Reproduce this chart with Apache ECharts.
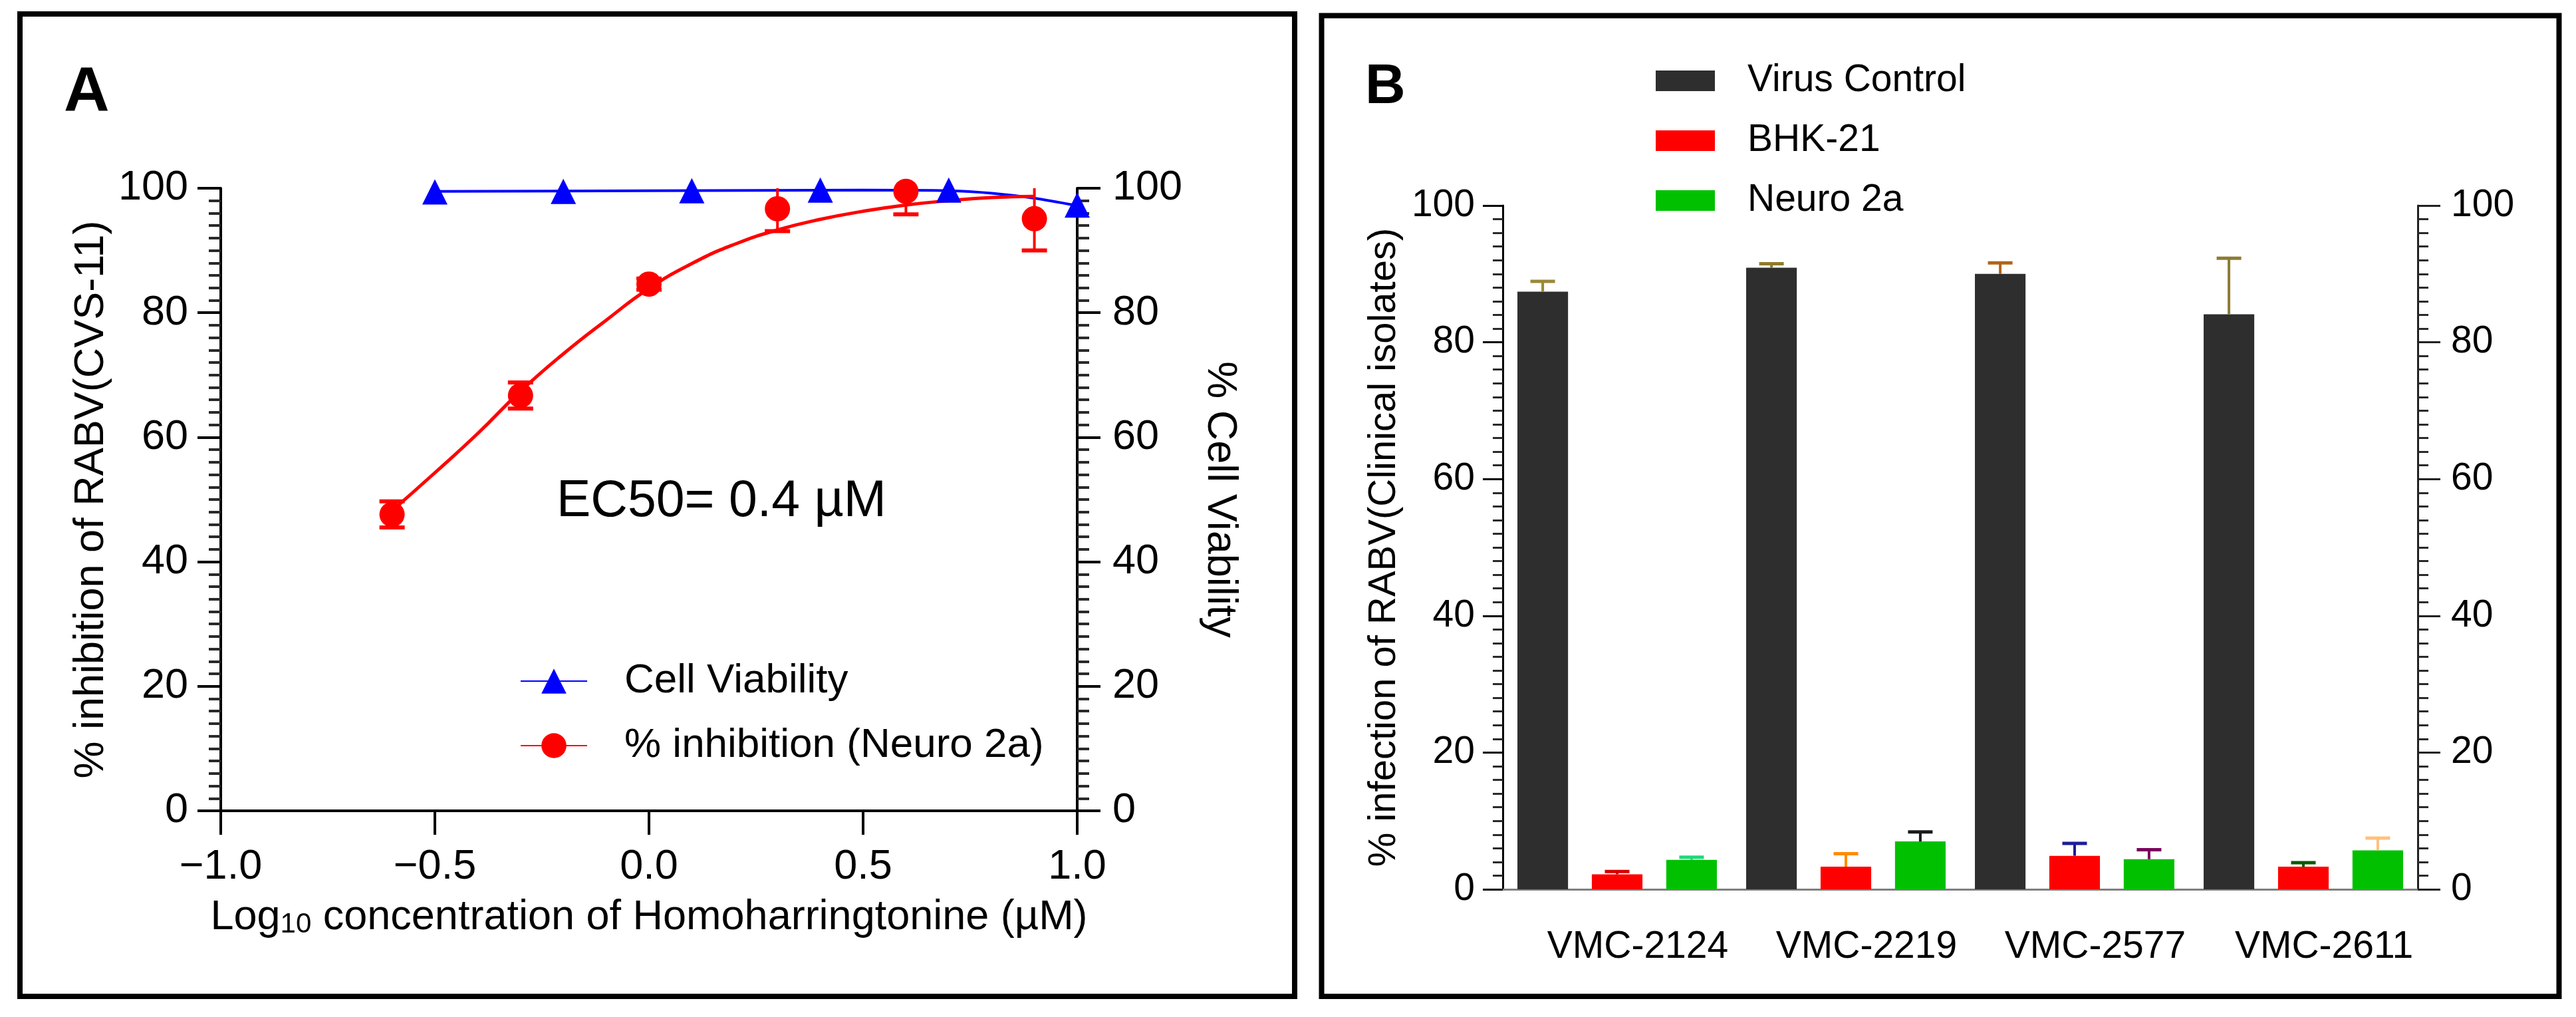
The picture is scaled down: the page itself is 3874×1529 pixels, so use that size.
<!DOCTYPE html>
<html>
<head>
<meta charset="utf-8">
<script src="https://cdn.jsdelivr.net/npm/echarts@6.0.0/dist/echarts.min.js"></script>
<style>
html,body{margin:0;padding:0;background:#fff;}
#c{width:3874px;height:1529px;}
</style>
</head>
<body>
<div id="c"></div>
<script>
// ---------------- DATA (panel A) ----------------
const inhibX = [-0.6, -0.3, 0.0, 0.3, 0.6, 0.9];
const inhibVals = [47.6, 66.7, 84.6, 96.7, 99.5, 95.1];
const inhibErr = [2.1, 2.1, 0.9, 3.6, 3.7, 5.1];

const viabX = [-0.5, -0.2, 0.1, 0.4, 0.7, 1.0];
const viabVals = [99.4, 99.5, 99.6, 99.7, 99.7, 97.3];

const inhibCurveX = [-0.6, -0.5, -0.4, -0.3, -0.2, -0.1, 0.0, 0.1, 0.2, 0.3, 0.4, 0.5, 0.6, 0.7, 0.8, 0.9];
const inhibCurveY = [48.2, 54.3, 60.6, 67.4, 73.4, 78.8, 83.9, 87.9, 91.0, 93.3, 95.0, 96.3, 97.3, 98.0, 98.5, 98.7];

const viabCurveX = [-0.5, 0.0, 0.5, 0.7, 0.8, 0.9, 1.0];
const viabCurveY = [99.5, 99.6, 99.7, 99.6, 99.2, 98.4, 97.2];

const xTickLabelsA = [-1.0, -0.5, 0.0, 0.5, 1.0];

// ---------------- DATA (panel B) ----------------
const isolates = ['VMC-2124', 'VMC-2219', 'VMC-2577', 'VMC-2611'];
const virusControl = [87.4, 90.9, 90.0, 84.1];
const virusControlErr = [1.5, 0.6, 1.6, 8.2];
const bhk21 = [2.2, 3.3, 4.9, 3.3];
const bhk21Err = [0.4, 1.9, 1.8, 0.6];
const neuro2a = [4.3, 7.0, 4.4, 5.7];
const neuro2aErr = [0.4, 1.4, 1.4, 1.8];

// ---------------- STYLE ----------------
const FONT = '"Liberation Sans", Arial, Helvetica, sans-serif';
const RED = '#ff0000';
const BLUE = '#0000ff';
const BAR_COLORS = ['#2e2e2e', '#ff0000', '#00c000'];
const ERR_COLORS = [
  ['#9a8838', '#8f7a2c', '#b0651a', '#8b7b33'],
  ['#d40000', '#ff8c00', '#1c1c9c', '#005c00'],
  ['#20d878', '#1a1a1a', '#7a005c', '#ffc080']
];
const BAR_GAP = 0.47;
const CAT_GAP = 0.128;

function fmtX(v) {
  const s = Math.abs(v).toFixed(1);
  return v < 0 ? '\u2212' + s : s;
}

function errA(params, api) {
  const x = api.value(0), v = api.value(1), e = api.value(2);
  const lo = Math.max(v - e, 0), hi = Math.min(v + e, 100);
  const pLo = api.coord([x, lo]);
  const pHi = api.coord([x, hi]);
  const half = 19;
  const children = [{
    type: 'line',
    shape: {x1: pLo[0], y1: pLo[1], x2: pHi[0], y2: pHi[1]},
    style: {stroke: RED, lineWidth: 4}
  }];
  if (v - e >= 0) children.push({type: 'line', shape: {x1: pLo[0] - half, y1: pLo[1], x2: pLo[0] + half, y2: pLo[1]}, style: {stroke: RED, lineWidth: 6}});
  if (v + e <= 100) children.push({type: 'line', shape: {x1: pHi[0] - half, y1: pHi[1], x2: pHi[0] + half, y2: pHi[1]}, style: {stroke: RED, lineWidth: 6}});
  return {type: 'group', children: children};
}

function makeErrB(k) {
  return function (params, api) {
    const ci = api.value(0), v = api.value(1), e = api.value(2);
    const band = api.size([1, 0])[0];
    const groupW = band * (1 - CAT_GAP);
    const bw = groupW / (3 + 2 * BAR_GAP);
    const off = (k - 1) * bw * (1 + BAR_GAP);
    const base = api.coord([ci, v]);
    const top = api.coord([ci, v + e]);
    const x = base[0] + off;
    const col = ERR_COLORS[k][params.dataIndex];
    return {
      type: 'group',
      children: [
        {type: 'line', shape: {x1: x, y1: base[1], x2: x, y2: top[1]}, style: {stroke: col, lineWidth: 4}},
        {type: 'line', shape: {x1: x - 18.5, y1: top[1], x2: x + 18.5, y2: top[1]}, style: {stroke: col, lineWidth: 5}}
      ]
    };
  };
}

const chart = echarts.init(document.getElementById('c'), null, {renderer: 'canvas'});

const pairs = (xs, ys) => xs.map((x, i) => [x, ys[i]]);
const triples = (xs, ys, es) => xs.map((x, i) => [x, ys[i], es[i]]);

function yAxisCommon(o) {
  return Object.assign({
    type: 'value', min: 0, max: 100, interval: 20,
    axisLine: {show: true, onZero: false, lineStyle: {color: '#000', width: 4}},
    axisTick: {show: true, length: 35, lineStyle: {color: '#000', width: 4}},
    minorTick: {show: true, splitNumber: 10, length: 18, lineStyle: {color: '#2a2a2a', width: 4}},
    splitLine: {show: false},
    minorSplitLine: {show: false},
    axisLabel: {fontSize: 63, color: '#000', fontFamily: FONT}
  }, o);
}

const option = {
  animation: false,
  backgroundColor: '#fff',
  textStyle: {fontFamily: FONT, color: '#000'},
  grid: [
    {left: 332, right: 3874 - 1620, top: 283, bottom: 1529 - 1219, containLabel: false},
    {left: 2260, right: 3874 - 3636, top: 309, bottom: 1529 - 1337, containLabel: false}
  ],
  xAxis: [
    {
      type: 'value', gridIndex: 0, min: xTickLabelsA[0], max: xTickLabelsA[xTickLabelsA.length - 1], interval: 0.5,
      axisLine: {show: true, onZero: false, lineStyle: {color: '#000', width: 4}},
      axisTick: {show: true, length: 36, lineStyle: {color: '#000', width: 4}},
      splitLine: {show: false},
      axisLabel: {fontSize: 63, color: '#000', margin: 53, formatter: fmtX, fontFamily: FONT},
      name: '{a|Log}{s|10}{a| concentration of Homoharringtonine (\u00b5M)}',
      nameLocation: 'middle', nameGap: 129,
      nameTextStyle: {
        rich: {
          a: {fontSize: 63, lineHeight: 63, color: '#000', fontFamily: FONT},
          s: {fontSize: 42, lineHeight: 30, verticalAlign: 'bottom', color: '#000', fontFamily: FONT}
        }
      }
    },
    {
      type: 'category', gridIndex: 1, data: isolates,
      axisLine: {show: true, onZero: false, lineStyle: {color: '#7f7f7f', width: 3}},
      axisTick: {show: false},
      splitLine: {show: false},
      axisLabel: {interval: 0, fontSize: 57, color: '#000', margin: 59, padding: [0, 0, 0, 62], fontFamily: FONT}
    }
  ],
  yAxis: [
    yAxisCommon({
      gridIndex: 0, position: 'left',
      axisLabel: {fontSize: 63, color: '#000', margin: 49, fontFamily: FONT},
      name: '% inhibition of RABV(CVS-11)', nameLocation: 'middle', nameGap: 163,
      nameTextStyle: {fontSize: 63, color: '#000', fontFamily: FONT}
    }),
    yAxisCommon({
      gridIndex: 0, position: 'right',
      axisLabel: {fontSize: 63, color: '#000', margin: 53, fontFamily: FONT},
      name: '% Cell Viability', nameLocation: 'middle', nameGap: 183, nameRotate: -90,
      nameTextStyle: {fontSize: 63, color: '#000', fontFamily: FONT}
    }),
    yAxisCommon({
      gridIndex: 1, position: 'left',
      axisLine: {show: true, onZero: false, lineStyle: {color: '#000', width: 3}},
      axisTick: {show: true, length: 30, lineStyle: {color: '#000', width: 3}},
      minorTick: {show: true, splitNumber: 10, length: 15, lineStyle: {color: '#2a2a2a', width: 3}},
      axisLabel: {fontSize: 57, color: '#000', margin: 42, fontFamily: FONT},
      name: '% infection of RABV(Clinical isolates)', nameLocation: 'middle', nameGap: 149,
      nameTextStyle: {fontSize: 58, color: '#000', fontFamily: FONT}
    }),
    yAxisCommon({
      gridIndex: 1, position: 'right',
      axisLine: {show: true, onZero: false, lineStyle: {color: '#222', width: 3}},
      axisTick: {show: true, length: 34, lineStyle: {color: '#222', width: 3}},
      minorTick: {show: true, splitNumber: 10, length: 16, lineStyle: {color: '#2a2a2a', width: 3}},
      axisLabel: {fontSize: 57, color: '#000', margin: 50, fontFamily: FONT}
    })
  ],
  legend: [
    {
      orient: 'vertical', left: 777, top: 988,
      itemWidth: 100, itemHeight: 47, itemGap: 35,
      selectedMode: false,
      textStyle: {fontSize: 62, lineHeight: 47, color: '#000', padding: [0, 0, 0, 51], fontFamily: FONT},
      data: ['Cell Viability', '% inhibition (Neuro 2a)']
    },
    {
      orient: 'vertical', left: 2485, top: 88,
      itemWidth: 89, itemHeight: 31, itemGap: 33, icon: 'rect',
      selectedMode: false,
      textStyle: {fontSize: 57, lineHeight: 31, color: '#000', padding: [0, 0, 0, 44], fontFamily: FONT},
      data: ['Virus Control', 'BHK-21', 'Neuro 2a']
    }
  ],
  series: [
    {
      name: 'Cell Viability', type: 'line', xAxisIndex: 0, yAxisIndex: 1,
      data: pairs(viabCurveX, viabCurveY), smooth: 0.3,
      symbol: 'triangle', symbolSize: 38, showSymbol: false,
      color: BLUE, lineStyle: {color: BLUE, width: 4}, itemStyle: {color: BLUE},
      silent: true, z: 2
    },
    {
      name: '% inhibition (Neuro 2a)', type: 'line', xAxisIndex: 0, yAxisIndex: 0,
      data: pairs(inhibCurveX, inhibCurveY), smooth: true,
      symbol: 'circle', symbolSize: 38, showSymbol: false,
      color: RED, lineStyle: {color: RED, width: 5}, itemStyle: {color: RED},
      silent: true, z: 2
    },
    {
      name: 'inhibErr', type: 'custom', xAxisIndex: 0, yAxisIndex: 0,
      data: triples(inhibX, inhibVals, inhibErr), renderItem: errA, silent: true, z: 3
    },
    {
      name: 'viabPts', type: 'scatter', xAxisIndex: 0, yAxisIndex: 1,
      data: pairs(viabX, viabVals), symbol: 'triangle', symbolSize: 38,
      itemStyle: {color: BLUE, opacity: 1}, silent: true, z: 4
    },
    {
      name: 'inhibPts', type: 'scatter', xAxisIndex: 0, yAxisIndex: 0,
      data: pairs(inhibX, inhibVals), symbol: 'circle', symbolSize: 38,
      itemStyle: {color: RED, opacity: 1}, silent: true, z: 4
    },
    {
      name: 'Virus Control', type: 'bar', xAxisIndex: 1, yAxisIndex: 2, data: virusControl,
      itemStyle: {color: BAR_COLORS[0]}, barGap: (BAR_GAP * 100) + '%', barCategoryGap: (CAT_GAP * 100) + '%', silent: true
    },
    {
      name: 'BHK-21', type: 'bar', xAxisIndex: 1, yAxisIndex: 2, data: bhk21,
      itemStyle: {color: BAR_COLORS[1]}, barGap: (BAR_GAP * 100) + '%', barCategoryGap: (CAT_GAP * 100) + '%', silent: true
    },
    {
      name: 'Neuro 2a', type: 'bar', xAxisIndex: 1, yAxisIndex: 2, data: neuro2a,
      itemStyle: {color: BAR_COLORS[2]}, barGap: (BAR_GAP * 100) + '%', barCategoryGap: (CAT_GAP * 100) + '%', silent: true
    },
    {
      name: 'vcErr', type: 'custom', xAxisIndex: 1, yAxisIndex: 2,
      data: virusControl.map((v, i) => [i, v, virusControlErr[i]]), renderItem: makeErrB(0), silent: true, z: 5
    },
    {
      name: 'bhkErr', type: 'custom', xAxisIndex: 1, yAxisIndex: 2,
      data: bhk21.map((v, i) => [i, v, bhk21Err[i]]), renderItem: makeErrB(1), silent: true, z: 5
    },
    {
      name: 'n2aErr', type: 'custom', xAxisIndex: 1, yAxisIndex: 2,
      data: neuro2a.map((v, i) => [i, v, neuro2aErr[i]]), renderItem: makeErrB(2), silent: true, z: 5
    }
  ],
  graphic: [
    {type: 'rect', shape: {x: 30, y: 21, width: 1917, height: 1477}, style: {fill: 'none', stroke: '#000', lineWidth: 8}, silent: true},
    {type: 'rect', shape: {x: 1987.5, y: 23.5, width: 1861, height: 1474.5}, style: {fill: 'none', stroke: '#000', lineWidth: 8}, silent: true},
    {type: 'text', x: 96, y: 141, style: {text: 'A', font: 'bold 95px ' + FONT, fill: '#000', align: 'left', verticalAlign: 'middle', textAlign: 'left', textVerticalAlign: 'middle'}, silent: true},
    {type: 'text', x: 2053, y: 132, style: {text: 'B', font: 'bold 84px ' + FONT, fill: '#000', align: 'left', verticalAlign: 'middle', textAlign: 'left', textVerticalAlign: 'middle'}, silent: true},
    {type: 'text', x: 837, y: 755, style: {text: 'EC50= 0.4 \u00b5M', font: '77px ' + FONT, fill: '#000', align: 'left', verticalAlign: 'middle', textAlign: 'left', textVerticalAlign: 'middle'}, silent: true}
  ]
};

chart.setOption(option);
</script>
</body>
</html>
